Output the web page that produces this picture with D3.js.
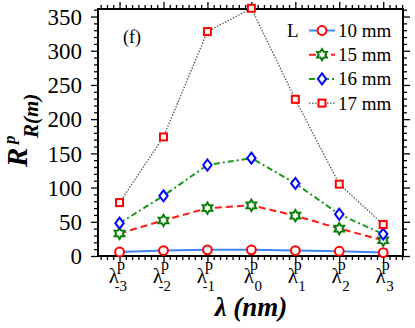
<!DOCTYPE html>
<html>
<head>
<meta charset="utf-8">
<script src="https://cdn.jsdelivr.net/npm/d3@7"></script>
<style>
  body { margin: 0; background: #fff; }
  svg { display: block; }
  .axis path { display: none; }
  .axis line { stroke: #000; stroke-width: 1.3; }
  .axis text { font-family: "Liberation Serif", serif; fill: #000; }
</style>
</head>
<body>
<svg class="svgChart"></svg>
<script>
// data
var orders = [-3, -2, -1, 0, 1, 2, 3];
var orderLabels = ['-3', '-2', '-1', '0', '1', '2', '3'];
var r10 = [6, 8, 9, 9, 8, 7, 5];
var r15 = [33, 52, 70, 74, 59, 40, 23];
var r16 = [48, 88, 133, 143, 106, 61, 32];
var r17 = [78, 174, 328, 362, 229, 105, 46];
var seriesNames = ['10 mm', '15 mm', '16 mm', '17 mm'];
var yTicks = [0, 50, 100, 150, 200, 250, 300, 350];

var W = 415, H = 328;
var margin = {top: 9, right: 12, bottom: 72, left: 98};
var width = W - margin.left - margin.right;
var height = H - margin.top - margin.bottom;

var svg = d3.select('.svgChart')
  .attr('width', W)
  .attr('height', H);

var xScale = d3.scaleLinear()
  .domain([-3.49, 3.45])
  .range([margin.left, margin.left + width]);

var yScale = d3.scaleLinear()
  .domain([0, 361])
  .range([margin.top + height, margin.top]);

// minor ticks: 7 steps between orders on x, every 10 on y
var xMinor = [];
for (var k = -4 * 7; k <= 4 * 7; k++) {
  var v = k / 7;
  if (v > -3.49 && v < 3.45 && k % 7 !== 0) xMinor.push(v);
}
var yMinor = d3.range(0, 361, 10).filter(function(v){ return v % 50 !== 0; });

function drawTicks(axisFn, scale, major, minor, transform, size) {
  svg.append('g')
    .attr('class', 'axis')
    .attr('transform', transform)
    .call(axisFn(scale).tickValues(minor).tickSize(4).tickFormat(''));
  return svg.append('g')
    .attr('class', 'axis')
    .attr('transform', transform)
    .call(axisFn(scale).tickValues(major).tickSize(size));
}

var bottomY = margin.top + height;
var rightX = margin.left + width;

// left axis with labels
var yAx = drawTicks(d3.axisLeft, yScale, yTicks, yMinor, 'translate(' + margin.left + ',0)', 7);
yAx.call(function(g){
  g.selectAll('text')
    .attr('font-size', 23)
    .attr('x', -16)
    .attr('dy', '0.34em');
});
// right axis
drawTicks(d3.axisRight, yScale, yTicks, yMinor, 'translate(' + rightX + ',0)', 7)
  .selectAll('text').remove();
// top axis
drawTicks(d3.axisTop, xScale, orders, xMinor, 'translate(0,' + margin.top + ')', 7)
  .selectAll('text').remove();
// bottom axis, labels drawn as lambda^p_n
var xAx = drawTicks(d3.axisBottom, xScale, orders, xMinor, 'translate(0,' + bottomY + ')', 7);
xAx.selectAll('text').remove();
xAx.selectAll('.tick').each(function(d, i){
  var t = d3.select(this);
  var neg = orderLabels[i][0] === '-';
  var s = neg ? -3 : 0;
  t.append('text')
    .attr('x', 2 + s).attr('y', 27)
    .attr('text-anchor', 'end')
    .attr('font-size', 21)
    .text('λ');
  t.append('text')
    .attr('x', neg ? 1 : 2).attr('y', 14)
    .attr('font-size', 16)
    .text('p');
  t.append('text')
    .attr('x', 10 + s).attr('y', 35)
    .attr('text-anchor', 'end')
    .attr('font-size', 15)
    .text(orderLabels[i]);
});

// frame
svg.append('rect')
  .attr('x', margin.left)
  .attr('y', margin.top)
  .attr('width', width)
  .attr('height', height)
  .attr('fill', 'none')
  .attr('stroke', '#000')
  .attr('stroke-width', 2);

// marker shapes
var hexStar = (function(){
  var pts = [];
  for (var j = 0; j < 12; j++) {
    var a = j * Math.PI / 6 - Math.PI / 2;
    var r = j % 2 === 0 ? 5.6 : 3.3;
    pts.push([r * Math.cos(a), r * Math.sin(a)]);
  }
  return d3.line()(pts) + 'Z';
})();

var series = [
  {name: seriesNames[0], vals: r10, line: '#3d86f5', lw: 2, dash: null, mk: 'circle', mc: '#ff0000'},
  {name: seriesNames[1], vals: r15, line: '#ff1a1a', lw: 2, dash: '7,4', mk: 'star', mc: '#0a7d0a'},
  {name: seriesNames[2], vals: r16, line: '#1a991a', lw: 2, dash: '6,3,2,3', mk: 'diamond', mc: '#0000ff'},
  {name: seriesNames[3], vals: r17, line: '#555555', lw: 1.3, dash: '1.5,1.5', mk: 'square', mc: '#ff0000'}
];

function drawMarker(sel, type, color) {
  if (type === 'circle') {
    sel.append('circle').attr('r', 4.4);
  } else if (type === 'star') {
    sel.append('path').attr('d', hexStar);
  } else if (type === 'diamond') {
    sel.append('path').attr('d', 'M0,-5.5L4.2,0L0,5.5L-4.2,0Z');
  } else {
    sel.append('rect').attr('x', -3.5).attr('y', -3.5).attr('width', 7).attr('height', 7);
  }
  sel.selectAll('*')
    .attr('fill', '#fff')
    .attr('stroke', color)
    .attr('stroke-width', 2);
}

var lineGen = d3.line()
  .x(function(d, i){ return xScale(orders[i]); })
  .y(function(d){ return yScale(d); });

var chart = svg.append('g').attr('class', 'chart');

series.forEach(function(s){
  chart.append('path')
    .attr('d', lineGen(s.vals))
    .attr('fill', 'none')
    .attr('stroke', s.line)
    .attr('stroke-width', s.lw)
    .attr('stroke-dasharray', s.dash);
});
series.forEach(function(s){
  chart.selectAll(null)
    .data(s.vals)
    .enter()
    .append('g')
      .attr('transform', function(d, i){
        return 'translate(' + xScale(orders[i]) + ',' + yScale(d) + ')';
      })
      .each(function(){ drawMarker(d3.select(this), s.mk, s.mc); });
});

// legend
var legend = svg.append('g')
  .attr('class', 'legend')
  .attr('font-family', 'Liberation Serif, serif');

legend.append('text')
  .attr('x', 287).attr('y', 37)
  .attr('font-size', 19)
  .text('L');

series.forEach(function(s, i){
  var y = 37 + i * 24.2;
  var row = legend.append('g');
  row.append('line')
    .attr('x1', 309).attr('x2', 335)
    .attr('y1', y - 6.5).attr('y2', y - 6.5)
    .attr('stroke', s.line)
    .attr('stroke-width', s.lw)
    .attr('stroke-dasharray', s.dash);
  var m = row.append('g').attr('transform', 'translate(322,' + (y - 6.5) + ')');
  drawMarker(m, s.mk, s.mc);
  row.append('text')
    .attr('x', 338).attr('y', y)
    .attr('font-size', 19)
    .text(s.name);
});

// panel tag
svg.append('text')
  .attr('x', 123).attr('y', 43)
  .attr('font-family', 'Liberation Serif, serif')
  .attr('font-size', 18)
  .text('(f)');

// axis titles
svg.append('text')
  .attr('x', 251).attr('y', 316)
  .attr('text-anchor', 'middle')
  .attr('font-family', 'Liberation Serif, serif')
  .attr('font-weight', 'bold')
  .attr('font-style', 'italic')
  .attr('font-size', 27)
  .text('λ (nm)');

var yTitle = svg.append('g')
  .attr('transform', 'translate(27,167) rotate(-90)')
  .attr('font-family', 'Liberation Serif, serif')
  .attr('font-weight', 'bold')
  .attr('font-style', 'italic');
yTitle.append('text').attr('x', 0).attr('y', 0).attr('font-size', 29).text('R');
yTitle.append('text').attr('x', 23).attr('y', -12).attr('font-size', 17).text('p');
yTitle.append('text').attr('x', 29).attr('y', 11).attr('font-size', 21).text('R(m)');
</script>
</body>
</html>
